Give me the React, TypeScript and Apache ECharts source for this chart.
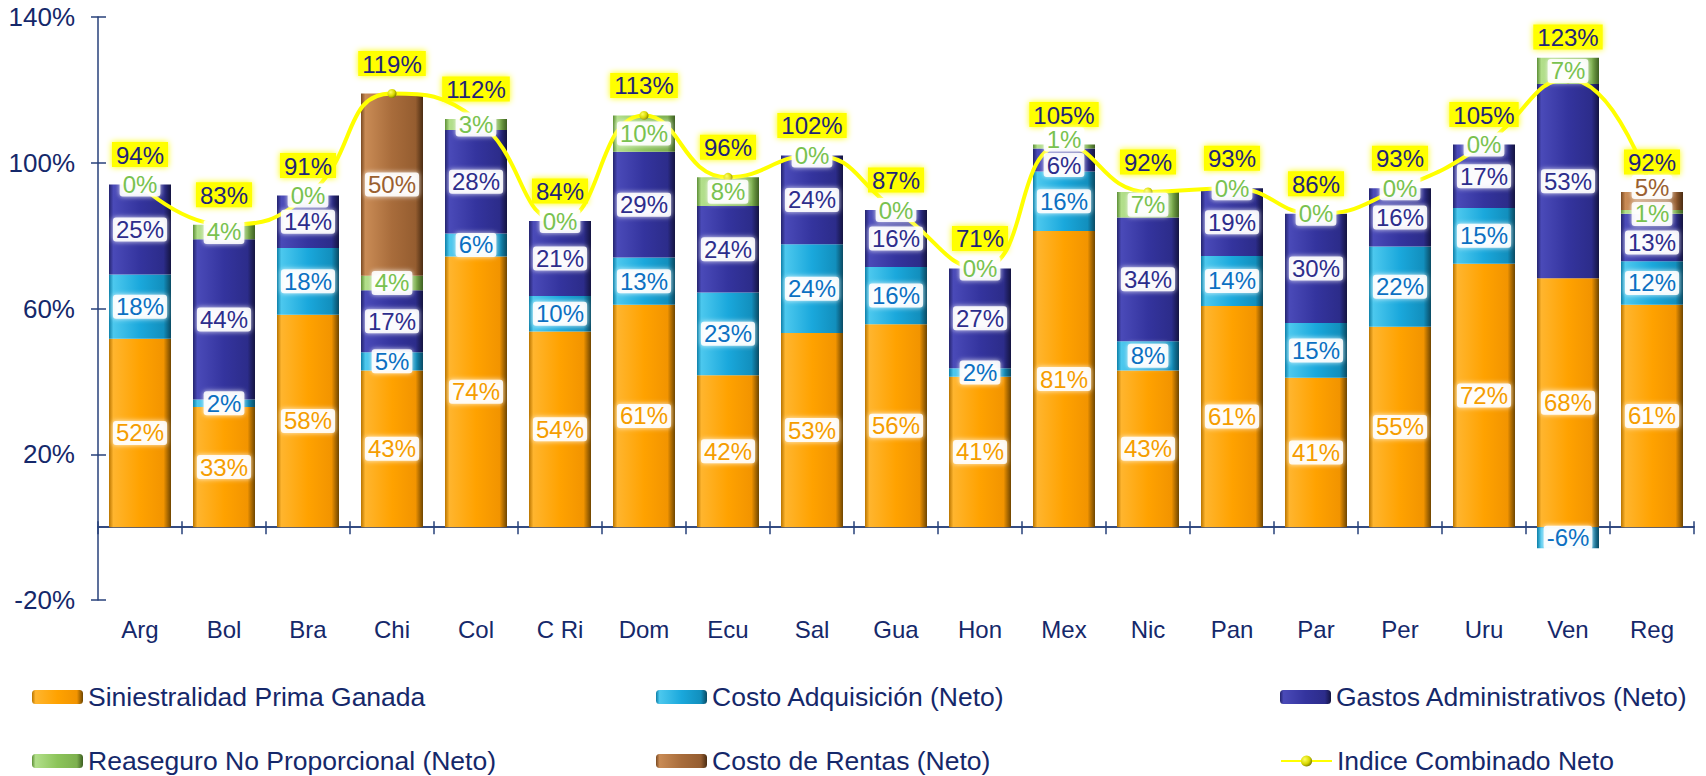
import React, { useEffect, useRef } from "react";
import * as echarts from "echarts";

const categories = ["Arg", "Bol", "Bra", "Chi", "Col", "C Ri", "Dom", "Ecu", "Sal", "Gua", "Hon", "Mex", "Nic", "Pan", "Par", "Per", "Uru", "Ven", "Reg"];
const siniestralidad = [51.7, 33, 58.3, 43, 74.3, 53.7, 61, 41.7, 53.3, 55.7, 41.3, 81.3, 43, 60.7, 41, 55, 72.3, 68.3, 61];
const costoAdquisicion = [17.6, 2, 18.3, 5, 6.3, 9.7, 13, 22.7, 24.3, 15.7, 2.3, 16.3, 8, 13.7, 15, 22, 15.3, -5.8, 12];
const gastosAdministrativos = [24.7, 44, 14.4, 17, 28.4, 20.6, 29, 23.7, 24.4, 15.6, 27.4, 6.3, 34, 18.6, 30, 16, 17.4, 53.3, 13];
const reaseguroNoProporcional = [0, 4, 0, 4, 3, 0, 10, 7.9, 0, 0, 0, 1.1, 7, 0, 0, 0, 0, 7.2, 1];
const costoRentas = [null, null, null, 50, null, null, null, null, null, null, null, null, null, null, null, null, null, null, 5];
const indiceCombinado = [94, 83, 91, 119, 112, 84, 113, 96, 102, 87, 71, 105, 92, 93, 86, 93, 105, 123, 92];
const yTicks = [-20, 20, 60, 100, 140];

const FONT = "'Liberation Sans', Arial, sans-serif";
const NAVY = "#15286a";
const AXIS = "#27407a";

// label nudges for crowded small segments: "seriesIndex-categoryIndex" -> [dx, dy]
const labelNudge: Record<string, number[]> = {
  "4-18": [0, -14],
  "3-18": [0, 2],
  "2-18": [0, 5],
  "3-11": [0, -7],
  "2-11": [0, 5],
};

const grad = (c: string[]) =>
  new echarts.graphic.LinearGradient(0, 0, 1, 0, [
    { offset: 0, color: c[0] },
    { offset: 0.07, color: c[1] },
    { offset: 0.5, color: c[2] },
    { offset: 0.88, color: c[3] },
    { offset: 1, color: c[4] },
  ]);

const barDefs = [
  { name: "Siniestralidad Prima Ganada", data: siniestralidad, fill: ["#b87400", "#ffb52e", "#ffa200", "#f29400", "#6e4500"], text: "#f59d00" },
  { name: "Costo Adquisición (Neto)", data: costoAdquisicion, fill: ["#0d7fa8", "#4cc8ee", "#1aa8dc", "#128fbd", "#0a4a63"], text: "#0b70c2" },
  { name: "Gastos Administrativos (Neto)", data: gastosAdministrativos, fill: ["#24246e", "#4a4ab8", "#34349e", "#2c2c8a", "#141440"], text: "#2d2d8c" },
  { name: "Reaseguro No Proporcional (Neto)", data: reaseguroNoProporcional, fill: ["#5d8f37", "#b2df8a", "#8cc45a", "#7db04e", "#3e5f22"], text: "#79c24f" },
  { name: "Costo de Rentas (Neto)", data: costoRentas, fill: ["#7a4a22", "#c98b55", "#a86c3b", "#955d30", "#4a2c12"], text: "#9a6030" },
];
const lineName = "Indice Combinado Neto";

export default function App() {
  const ref = useRef<HTMLDivElement>(null);
  useEffect(() => {
    if (!ref.current) return;
    const chart = echarts.init(ref.current, null, { renderer: "svg" });

    const visibleBars = barDefs.map((b) => ({
      name: b.name,
      type: "bar",
      stack: "vis",
      barWidth: 62,
      barGap: "-100%",
      z: 2,
      data: b.data,
      itemStyle: { color: grad(b.fill) },
      label: { show: false },
    }));
    const labelBars = barDefs.map((b, si) => ({
      name: b.name + " ",
      type: "bar",
      stack: "lbl",
      barWidth: 62,
      barGap: "-100%",
      z: 5,
      data: b.data.map((v, i) => {
        const n = labelNudge[`${si}-${i}`];
        return n ? { value: v, label: { offset: n } } : v;
      }),
      itemStyle: { color: "rgba(0,0,0,0)" },
      label: {
        show: true,
        position: "inside",
        formatter: (p: any) => (p.value == null ? "" : `${Math.round(p.value)}%`),
        color: b.text,
        fontFamily: FONT,
        fontSize: 24,
        backgroundColor: "rgba(255,255,255,0.88)",
        padding: [0, 3, 0, 3],
        borderRadius: 3,
        shadowBlur: 5,
        shadowColor: "rgba(255,255,255,0.95)",
      },
      emphasis: { disabled: true },
    }));

    chart.setOption({
      animation: false,
      backgroundColor: "#ffffff",
      grid: { left: 98, right: 12, top: 17, bottom: 176, containLabel: false },
      legend: [
        { names: [barDefs[0].name], left: 32, top: 682 },
        { names: [barDefs[1].name], left: 656, top: 682 },
        { names: [barDefs[2].name], left: 1280, top: 682 },
        { names: [barDefs[3].name], left: 32, top: 746 },
        { names: [barDefs[4].name], left: 656, top: 746 },
        { names: [lineName], left: 1280, top: 746 },
      ].map((l) => ({
        data: l.names,
        left: l.left,
        top: l.top,
        padding: 0,
        itemWidth: 51,
        itemHeight: 14,
        selectedMode: false,
        textStyle: { color: NAVY, fontFamily: FONT, fontSize: 26.5, lineHeight: 30 },
      })),
      xAxis: [
        {
          type: "category",
          data: categories,
          position: "bottom",
          axisLine: { show: false, onZero: false },
          axisTick: { show: false },
          axisLabel: { show: true, interval: 0, margin: 17, color: NAVY, fontFamily: FONT, fontSize: 24 },
          splitLine: { show: false },
        },
        {
          type: "category",
          data: categories,
          position: "bottom",
          axisLine: { show: true, onZero: true, onZeroAxisIndex: 0, lineStyle: { color: AXIS, width: 1.5 } },
          axisTick: { show: true, length: 7, lineStyle: { color: AXIS, width: 1.5 } },
          axisLabel: { show: false },
          splitLine: { show: false },
        },
        {
          type: "category",
          data: categories,
          position: "bottom",
          axisLine: { show: true, onZero: true, onZeroAxisIndex: 1, lineStyle: { color: AXIS, width: 1.5 } },
          axisTick: { show: true, inside: true, length: 6, lineStyle: { color: AXIS, width: 1.5 } },
          axisLabel: { show: false },
          splitLine: { show: false },
        },
      ],
      yAxis: [
        {
          type: "value",
          min: -20,
          max: 140,
          interval: 20,
          position: "left",
          axisLine: { show: true, lineStyle: { color: AXIS, width: 1.5 } },
          axisTick: { show: true, length: 7, customValues: yTicks, lineStyle: { color: AXIS, width: 1.5 } },
          axisLabel: { customValues: yTicks, margin: 23, color: NAVY, fontFamily: FONT, fontSize: 26, formatter: (v: number) => `${v}%` },
          splitLine: { show: false },
        },
        {
          type: "value",
          min: -20,
          max: 140,
          interval: 20,
          position: "left",
          axisLine: { show: false },
          axisTick: { show: true, inside: true, length: 8, customValues: yTicks, lineStyle: { color: AXIS, width: 1.5 } },
          axisLabel: { show: false },
          splitLine: { show: false },
        },
      ],
      series: [
        ...visibleBars,
        {
          name: lineName,
          type: "line",
          data: indiceCombinado.map((v, i) => (i === 17 ? { value: v, label: { distance: 25 } } : v)),
          smooth: true,
          z: 3,
          symbol: "circle",
          symbolSize: 9,
          lineStyle: { color: "#ffff00", width: 4 },
          itemStyle: {
            color: new echarts.graphic.RadialGradient(0.35, 0.35, 0.7, [
              { offset: 0, color: "#ffff60" },
              { offset: 0.6, color: "#d8d800" },
              { offset: 1, color: "#7a7a00" },
            ]),
          },
          label: {
            show: true,
            position: "top",
            distance: 13,
            formatter: (p: any) => `${p.value}%`,
            color: "#1f2478",
            fontFamily: FONT,
            fontSize: 24,
            backgroundColor: "#ffff00",
            padding: [1, 4, 0, 4],
            shadowBlur: 6,
            shadowColor: "#ffff00",
          },
        },
        ...labelBars,
      ],
    });
    return () => chart.dispose();
  }, []);
  return <div ref={ref} style={{ position: "absolute", left: 0, top: 0, width: 1706, height: 776 }} />;
}
